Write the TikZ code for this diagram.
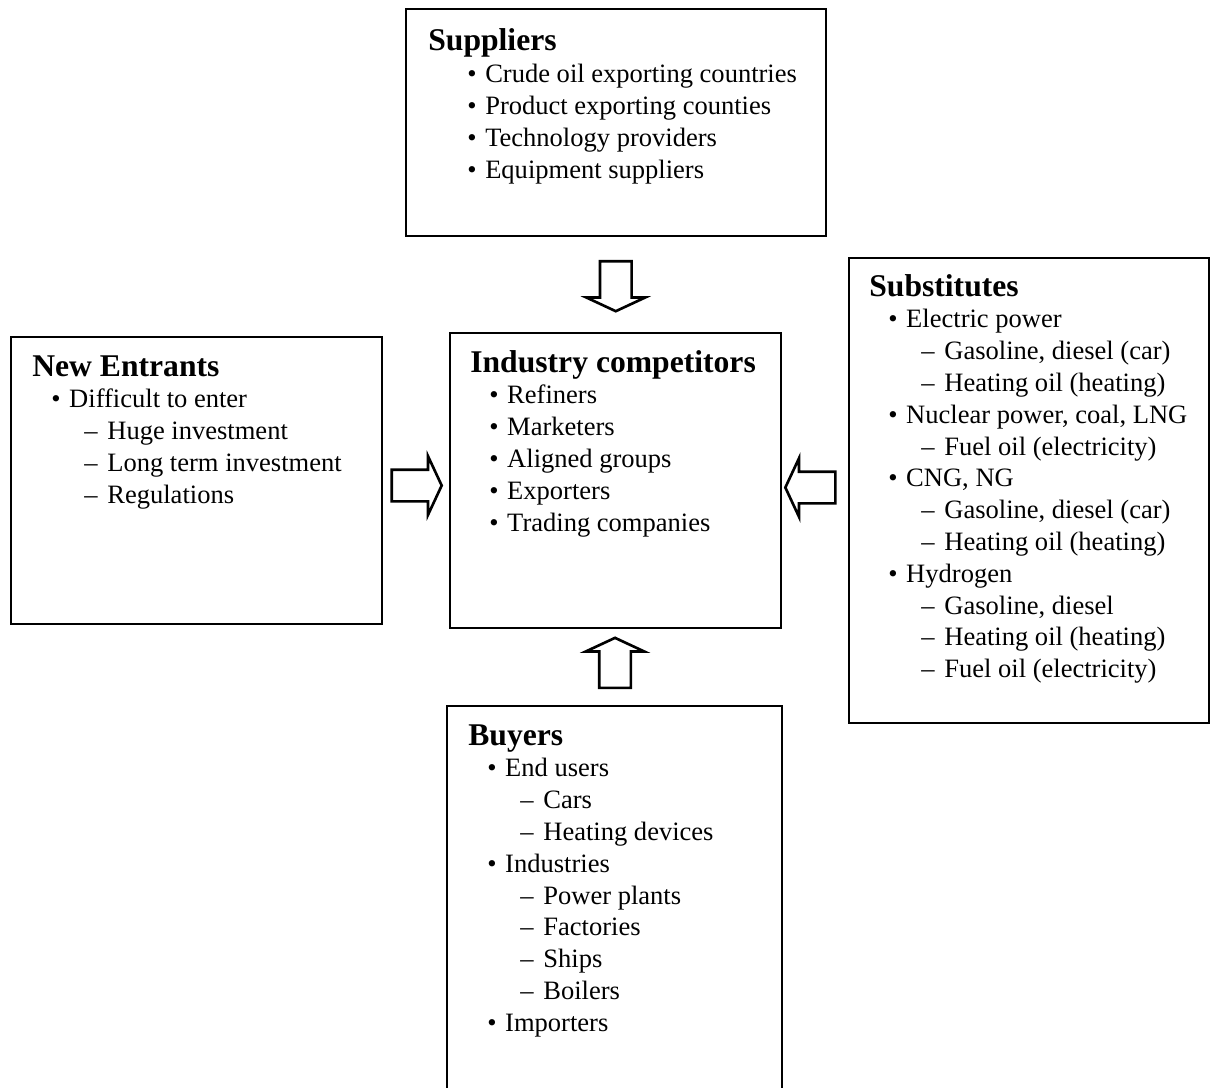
\documentclass[tikz,border=0pt]{standalone}
\usepackage{fontspec}
\setmainfont{Liberation Serif}
\usetikzlibrary{positioning, calc, shapes.arrows}

\newcommand{\boxhead}[1]{{\fontsize{18pt}{18pt}\selectfont\bfseries #1}}
\newcommand{\bul}[1]{\hspace*{10.8pt}\makebox[10.2pt][l]{\textbullet}#1}
\newcommand{\sbul}[1]{\hspace*{22.2pt}\makebox[10.2pt][l]{\textbullet}#1}
\newcommand{\dsh}[1]{\hspace*{29.6pt}\makebox[13.1pt][l]{--}#1}

\tikzset{
  forcebox/.style={draw, line width=1.2pt, inner sep=0pt, anchor=north west},
  boxtext/.style={anchor=base west, inner sep=0pt, font=\fontsize{15.1pt}{18.1pt}\selectfont},
  pusharrow/.style={single arrow, draw, line width=1.5pt, fill=white,
    inner xsep=0pt, inner ysep=0.29cm, minimum height=1cm,
    single arrow head extend=0.27cm, single arrow tip angle=130,
    single arrow head indent=0pt}
}

\begin{document}
\begin{tikzpicture}[x=0.02cm, y=-0.02cm]
\useasboundingbox[fill=white] (0,0) rectangle (1211,1088);
% the five forces
\node[forcebox, minimum width=8.4cm, minimum height=4.54cm] (sup) at (405,8) {};
\node[forcebox, minimum width=7.42cm, minimum height=5.74cm] (ent) at (10,336) {};
\node[forcebox, minimum width=6.62cm, minimum height=5.9cm] (comp) at (449,332) {};
\node[forcebox, minimum width=7.2cm, minimum height=9.3cm] (sub) at (848,257) {};
\node[forcebox, draw=none, minimum width=6.66cm, minimum height=7.8cm] (buy) at (447,706) {};
\draw[line width=1.2pt] (buy.south west) -- (buy.north west) -- (buy.north east) -- (buy.south east);

\node[boxtext] (suptxt) at ($(sup.north west)+(23,43)$) {\begin{tabular}[t]{@{}l@{}}
  \boxhead{Suppliers}\\
  \sbul{Crude oil exporting countries}\\
  \sbul{Product exporting counties}\\
  \sbul{Technology providers}\\
  \sbul{Equipment suppliers}
\end{tabular}};
\node[boxtext] (enttxt) at ($(ent.north west)+(22,40)$) {\begin{tabular}[t]{@{}l@{}}
  \boxhead{New Entrants}\\
  \bul{Difficult to enter}\\
  \dsh{Huge investment}\\
  \dsh{Long term investment}\\
  \dsh{Regulations}
\end{tabular}};
\node[boxtext] (comptxt) at ($(comp.north west)+(21,40)$) {\begin{tabular}[t]{@{}l@{}}
  \boxhead{Industry competitors}\\
  \bul{Refiners}\\
  \bul{Marketers}\\
  \bul{Aligned groups}\\
  \bul{Exporters}\\
  \bul{Trading companies}
\end{tabular}};
\node[boxtext] (subtxt) at ($(sub.north west)+(21,39)$) {\begin{tabular}[t]{@{}l@{}}
  \boxhead{Substitutes}\\
  \bul{Electric power}\\
  \dsh{Gasoline, diesel (car)}\\
  \dsh{Heating oil (heating)}\\
  \bul{Nuclear power, coal, LNG}\\
  \dsh{Fuel oil (electricity)}\\
  \bul{CNG, NG}\\
  \dsh{Gasoline, diesel (car)}\\
  \dsh{Heating oil (heating)}\\
  \bul{Hydrogen}\\
  \dsh{Gasoline, diesel}\\
  \dsh{Heating oil (heating)}\\
  \dsh{Fuel oil (electricity)}
\end{tabular}};
\node[boxtext] (buytxt) at ($(buy.north west)+(21,39)$) {\begin{tabular}[t]{@{}l@{}}
  \boxhead{Buyers}\\
  \bul{End users}\\
  \dsh{Cars}\\
  \dsh{Heating devices}\\
  \bul{Industries}\\
  \dsh{Power plants}\\
  \dsh{Factories}\\
  \dsh{Ships}\\
  \dsh{Boilers}\\
  \bul{Importers}
\end{tabular}};

% block arrows into the industry
\node[pusharrow, rotate=270] (supin) at ($(sup.south)!0.5!(comp.north)+(0,-2)$) {};
\node[pusharrow] (entin) at ($(ent.east)!0.5!(comp.west)+(-3,5)$) {};
\node[pusharrow, rotate=180] (subin) at ($(comp.east)!0.5!(sub.west)+(-1,2)$) {};
\node[pusharrow, rotate=90] (buyin) at ($(comp.south)!0.5!(buy.north)+(0,-1)$) {};
\end{tikzpicture}
\end{document}
